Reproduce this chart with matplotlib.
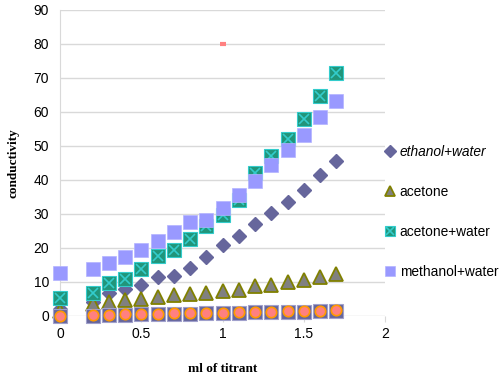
import numpy as np
import matplotlib.pyplot as plt

# ml of titrant
x = [0, 0.2, 0.3, 0.4, 0.5, 0.6, 0.7, 0.8, 0.9, 1.0, 1.1, 1.2, 1.3, 1.4, 1.5, 1.6, 1.7]

ethanol_water = [2.0, 4.0, 6.8, 7.9, 9.2, 11.4, 11.7, 14.1, 17.2, 20.9, 23.6, 26.9, 30.3, 33.6, 36.9, 41.4, 45.5]
acetone = [1.5, 3.6, 4.2, 4.7, 5.0, 5.5, 6.0, 6.3, 6.8, 7.2, 7.7, 8.7, 9.1, 9.9, 10.5, 11.3, 12.2]
acetone_water = [5.1, 6.8, 9.7, 10.9, 13.8, 17.5, 19.5, 22.7, 26.4, 29.6, 34.2, 42.0, 46.9, 52.1, 58.0, 64.6, 71.3]
methanol_water = [12.6, 13.9, 15.4, 17.2, 19.5, 22.1, 24.7, 27.5, 28.3, 31.6, 35.6, 39.6, 44.5, 48.9, 53.3, 58.4, 63.2]
water = [0.0, 0.0, 0.2, 0.3, 0.4, 0.5, 0.6, 0.6, 0.7, 0.8, 0.9, 1.0, 1.1, 1.2, 1.2, 1.4, 1.5]
salt = [0.0, 0.1, 0.3, 0.4, 0.5, 0.6, 0.7, 0.7, 0.8, 0.9, 1.0, 1.1, 1.2, 1.3, 1.3, 1.5, 1.6]
stray_x = [1.0]
stray_y = [80]

fig = plt.figure(figsize=(5, 3.76), dpi=100)
ax = fig.add_axes([0.12, 0.16, 0.65, 0.814])

h1, = ax.plot(x, ethanol_water, 'D', color='#66669c', ms=7.5, mec='#66669c', ls='none', zorder=3)
h2, = ax.plot(x, acetone, '^', color='#808080', mec='#808000', mew=1.3, ms=9.5, ls='none', zorder=3)
h3a, = ax.plot(x, acetone_water, 's', color='#21957a', mec='#33cccc', mew=0.8, ms=9.5, ls='none', zorder=3)
h3b, = ax.plot(x, acetone_water, 'x', color='#33cccc', mew=1.2, ms=7.5, ls='none', zorder=3)
h4, = ax.plot(x, methanol_water, 's', color='#9999ff', mec='#b3b3ff', mew=0.5, ms=9.5, ls='none', zorder=3)
ax.plot(x, water, 's', color='#66669c', mec='#a0a0cc', mew=0.8, ms=9.5, ls='none', zorder=3)
ax.plot(x, salt, 'o', color='#ff8080', mec='#ff9900', mew=1.2, ms=7.5, ls='none', zorder=4)
ax.plot(stray_x, stray_y, '_', color='#ff8080', mew=3, ms=5, ls='none', zorder=4)

ax.set_xlim(0, 2)
ax.set_ylim(0, 90)
ax.set_xticks([0, 0.5, 1, 1.5, 2])
ax.set_xticklabels(['0', '0.5', '1', '1.5', '2'])
ax.set_yticks(range(0, 91, 10))
ax.grid(axis='y', color='#d9d9d9', lw=1)
ax.set_axisbelow(True)
for s in ['top', 'right', 'bottom']:
    ax.spines[s].set_visible(False)
ax.spines['left'].set_color('#d9d9d9')
ax.tick_params(axis='y', length=0, labelsize=10, pad=8)
ax.tick_params(axis='x', length=4, color='#d9d9d9', labelsize=10, pad=4)
for line in ax.lines:
    line.set_clip_on(False)
for t in ax.get_xticklabels() + ax.get_yticklabels():
    t.set_fontfamily('Liberation Sans')

ax.set_xlabel('ml of titrant', fontfamily='Liberation Serif', fontweight='bold', fontsize=9.5, labelpad=16)
ax.set_ylabel('conductivity', fontfamily='Liberation Serif', fontweight='bold', fontsize=9.5, labelpad=10)

leg = ax.legend([h1, h2, (h3a, h3b), h4],
                ['ethanol+water', 'acetone', 'acetone+water', 'methanol+water'],
                loc='upper left', bbox_to_anchor=(0.965, 0.6), frameon=False,
                prop={'family': 'Liberation Sans', 'size': 9.9},
                labelspacing=1.9, handlelength=0.6, handletextpad=0.4, markerscale=0.75)
leg.get_texts()[0].set_fontstyle('italic')

fig.savefig('out.png', dpi=100)
